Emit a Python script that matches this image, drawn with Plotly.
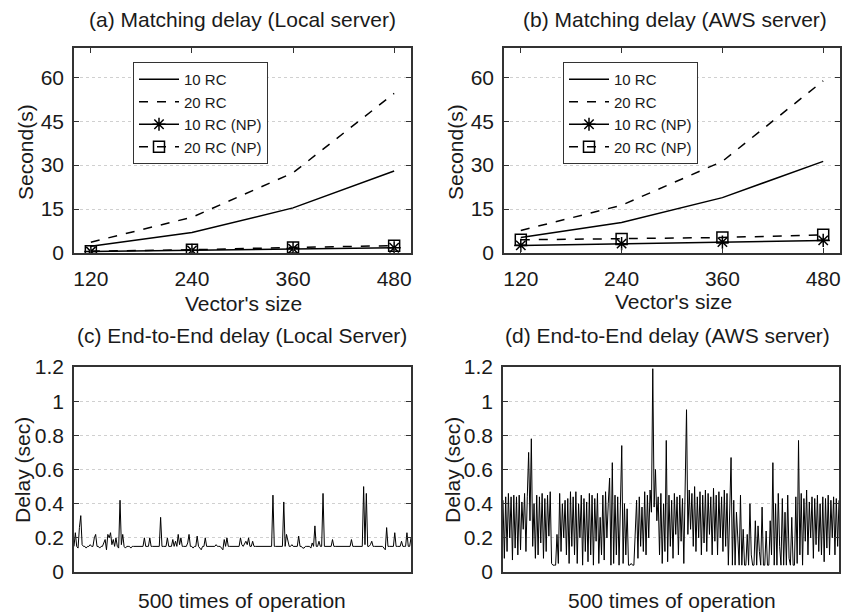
import plotly.graph_objects as go

# ---------------- data ----------------
vector_sizes = [120, 240, 360, 480]

local_10rc = [2.3, 7.0, 15.4, 28.0]
local_20rc = [3.7, 12.2, 27.4, 54.5]
local_10rc_np = [0.5, 0.9, 1.5, 1.8]
local_20rc_np = [0.6, 1.1, 1.9, 2.5]

aws_10rc = [5.3, 10.4, 18.9, 31.3]
aws_20rc = [7.7, 16.3, 31.3, 58.8]
aws_10rc_np = [2.6, 3.2, 3.7, 4.3]
aws_20rc_np = [4.5, 4.8, 5.3, 6.2]

y_ticks_match = [0, 15, 30, 45, 60]
y_ticks_delay = [0, 0.2, 0.4, 0.6, 0.8, 1, 1.2]
y_ticktext_delay = ["0", "0.2", "0.4", "0.6", "0.8", "1", "1.2"]

local_e2e = [
    0.15, 0.23, 0.15, 0.14, 0.26, 0.33, 0.16, 0.15, 0.15, 0.14,
    0.15, 0.15, 0.16, 0.15, 0.15, 0.20, 0.22, 0.15, 0.15, 0.14,
    0.15, 0.15, 0.17, 0.19, 0.13, 0.22, 0.20, 0.23, 0.16, 0.19,
    0.15, 0.20, 0.15, 0.14, 0.42, 0.16, 0.22, 0.15, 0.14, 0.15,
    0.15, 0.15, 0.14, 0.15, 0.15, 0.15, 0.15, 0.15, 0.15, 0.15,
    0.15, 0.15, 0.20, 0.15, 0.15, 0.15, 0.20, 0.15, 0.15, 0.15,
    0.15, 0.15, 0.15, 0.15, 0.32, 0.15, 0.15, 0.15, 0.15, 0.20,
    0.15, 0.15, 0.15, 0.19, 0.15, 0.18, 0.15, 0.22, 0.16, 0.20,
    0.15, 0.15, 0.15, 0.15, 0.17, 0.22, 0.15, 0.15, 0.14, 0.15,
    0.15, 0.21, 0.15, 0.14, 0.13, 0.15, 0.15, 0.20, 0.15, 0.15,
    0.15, 0.15, 0.15, 0.15, 0.15, 0.16, 0.15, 0.15, 0.15, 0.14,
    0.13, 0.19, 0.15, 0.20, 0.15, 0.15, 0.15, 0.15, 0.15, 0.15,
    0.15, 0.15, 0.15, 0.20, 0.16, 0.15, 0.17, 0.18, 0.16, 0.20,
    0.15, 0.15, 0.18, 0.15, 0.15, 0.15, 0.15, 0.15, 0.15, 0.15,
    0.15, 0.15, 0.15, 0.15, 0.15, 0.15, 0.15, 0.45, 0.15, 0.15,
    0.15, 0.15, 0.15, 0.15, 0.15, 0.41, 0.15, 0.22, 0.19, 0.15,
    0.15, 0.16, 0.15, 0.15, 0.15, 0.15, 0.21, 0.15, 0.15, 0.14,
    0.14, 0.15, 0.15, 0.15, 0.15, 0.14, 0.17, 0.15, 0.27, 0.15,
    0.15, 0.18, 0.15, 0.15, 0.46, 0.15, 0.15, 0.15, 0.15, 0.15,
    0.15, 0.19, 0.15, 0.15, 0.15, 0.15, 0.15, 0.15, 0.15, 0.15,
    0.15, 0.15, 0.15, 0.15, 0.15, 0.19, 0.15, 0.15, 0.15, 0.15,
    0.15, 0.15, 0.15, 0.15, 0.50, 0.16, 0.46, 0.15, 0.15, 0.16,
    0.18, 0.15, 0.15, 0.15, 0.15, 0.15, 0.15, 0.15, 0.15, 0.14,
    0.13, 0.26, 0.15, 0.15, 0.15, 0.15, 0.15, 0.23, 0.15, 0.15,
    0.15, 0.15, 0.18, 0.15, 0.15, 0.15, 0.23, 0.15, 0.15, 0.20,
]

aws_e2e = [
    0.42, 0.08, 0.44, 0.12, 0.46, 0.20, 0.44, 0.07, 0.45, 0.14,
    0.44, 0.10, 0.45, 0.13, 0.41, 0.25, 0.46, 0.12, 0.44, 0.70,
    0.30, 0.78, 0.15, 0.40, 0.08, 0.45, 0.10, 0.44, 0.17, 0.46,
    0.08, 0.43, 0.12, 0.45, 0.21, 0.47, 0.05, 0.04, 0.04, 0.04,
    0.22, 0.05, 0.46, 0.12, 0.40, 0.20, 0.42, 0.10, 0.43, 0.05,
    0.47, 0.15, 0.44, 0.10, 0.47, 0.05, 0.40, 0.20, 0.45, 0.04,
    0.43, 0.12, 0.41, 0.06, 0.46, 0.10, 0.45, 0.04, 0.43, 0.18,
    0.46, 0.05, 0.32, 0.10, 0.45, 0.07, 0.47, 0.20, 0.40, 0.55,
    0.04, 0.64, 0.05, 0.45, 0.10, 0.44, 0.04, 0.38, 0.74, 0.05,
    0.40, 0.10, 0.37, 0.04, 0.04, 0.05, 0.04, 0.04, 0.22, 0.42,
    0.08, 0.44, 0.15, 0.38, 0.12, 0.47, 0.10, 0.45, 0.20, 0.48,
    0.35, 1.19, 0.38, 0.60, 0.30, 0.44, 0.10, 0.46, 0.05, 0.40,
    0.12, 0.77, 0.06, 0.45, 0.15, 0.42, 0.08, 0.46, 0.22, 0.44,
    0.10, 0.45, 0.18, 0.43, 0.05, 0.47, 0.95, 0.22, 0.48, 0.25,
    0.46, 0.15, 0.50, 0.12, 0.44, 0.20, 0.47, 0.10, 0.45, 0.17,
    0.48, 0.12, 0.46, 0.22, 0.44, 0.10, 0.49, 0.18, 0.45, 0.10,
    0.47, 0.20, 0.44, 0.12, 0.48, 0.15, 0.46, 0.04, 0.45, 0.67,
    0.04, 0.42, 0.04, 0.35, 0.20, 0.04, 0.45, 0.04, 0.25, 0.04,
    0.04, 0.22, 0.04, 0.40, 0.10, 0.04, 0.04, 0.30, 0.04, 0.27,
    0.12, 0.04, 0.38, 0.04, 0.04, 0.24, 0.04, 0.04, 0.30, 0.10,
    0.64, 0.04, 0.40, 0.04, 0.46, 0.15, 0.04, 0.43, 0.04, 0.35,
    0.04, 0.45, 0.08, 0.04, 0.32, 0.04, 0.04, 0.44, 0.05, 0.77,
    0.10, 0.46, 0.04, 0.43, 0.18, 0.48, 0.10, 0.41, 0.20, 0.44,
    0.08, 0.43, 0.16, 0.45, 0.12, 0.40, 0.10, 0.44, 0.06, 0.43,
    0.14, 0.45, 0.10, 0.42, 0.20, 0.44, 0.10, 0.43, 0.15, 0.42,
]

# ---------------- figure ----------------
W, H = 856, 613
OX, OY = -8, -8          # compensate page offset
FONT = "Liberation Sans, Arial, sans-serif"
TXT = "#1a1a1a"
AX = "#333333"
TICK_SIZE = 21
LABEL_SIZE = 21

fig = go.Figure()

def add_match(xa, ya, leg, s10, s20, s10np, s20np):
    common = dict(x=vector_sizes, xaxis=xa, yaxis=ya, legend=leg)
    fig.add_trace(go.Scatter(y=s10, name="10 RC", mode="lines",
                             line=dict(color="black", width=1.5), **common))
    fig.add_trace(go.Scatter(y=s20, name="20 RC", mode="lines",
                             line=dict(color="black", width=1.5, dash="dash"), **common))
    fig.add_trace(go.Scatter(y=s10np, name="10 RC (NP)", mode="lines+markers",
                             line=dict(color="black", width=1.5),
                             marker=dict(symbol="asterisk-open", size=11,
                                         line=dict(color="black", width=1.5)), **common))
    fig.add_trace(go.Scatter(y=s20np, name="20 RC (NP)", mode="lines+markers",
                             line=dict(color="black", width=1.5, dash="dash"),
                             marker=dict(symbol="square-open", size=11, color="black",
                                         line=dict(color="black", width=1.5)), **common))

add_match("x", "y", "legend", local_10rc, local_20rc, local_10rc_np, local_20rc_np)
add_match("x2", "y2", "legend2", aws_10rc, aws_20rc, aws_10rc_np, aws_20rc_np)

fig.add_trace(go.Scatter(x=list(range(len(local_e2e))), y=local_e2e, mode="lines",
                         line=dict(color="black", width=1), xaxis="x3", yaxis="y3",
                         showlegend=False))
fig.add_trace(go.Scatter(x=list(range(len(aws_e2e))), y=aws_e2e, mode="lines",
                         line=dict(color="black", width=1), xaxis="x4", yaxis="y4",
                         showlegend=False))

def px_x(p):
    return (p + OX) / W

def px_y(p):
    return 1 - (p + OY) / H

axis_common = dict(showline=True, linecolor=AX, linewidth=1.5, mirror="ticks",
                   ticks="inside", tickcolor=AX, ticklen=5, tickwidth=1,
                   zeroline=False, automargin=False,
                   tickfont=dict(family=FONT, size=TICK_SIZE, color=TXT))

xa_match = dict(axis_common, range=[100, 500], tickvals=vector_sizes,
                showgrid=False, ticklabelstandoff=6)
ya_match = dict(axis_common, range=[0, 70], tickvals=y_ticks_match, showgrid=True,
                gridcolor="#d0d0d0", griddash="dot", gridwidth=1, ticklabelstandoff=4)
xa_delay = dict(axis_common, showticklabels=False, ticks="", showgrid=False)
ya_delay = dict(axis_common, range=[0, 1.2], tickvals=y_ticks_delay,
                ticktext=y_ticktext_delay, showgrid=True, gridcolor="#d0d0d0",
                griddash="dot", gridwidth=1, ticklabelstandoff=4)

legend_common = dict(xanchor="left", yanchor="top", bordercolor=AX, borderwidth=1,
                     bgcolor="white", font=dict(family=FONT, size=15, color=TXT),
                     itemwidth=40, tracegroupgap=0)

fig.update_layout(
    width=W, height=H,
    margin=dict(l=0, r=0, t=0, b=0, autoexpand=False),
    paper_bgcolor="white", plot_bgcolor="white",
    font=dict(family=FONT, color=TXT),
    xaxis=dict(xa_match, domain=[px_x(74), px_x(411)], anchor="y"),
    yaxis=dict(ya_match, domain=[px_y(253), px_y(48)], anchor="x"),
    xaxis2=dict(xa_match, domain=[px_x(504), px_x(840)], anchor="y2"),
    yaxis2=dict(ya_match, domain=[px_y(253), px_y(48)], anchor="x2"),
    xaxis3=dict(xa_delay, domain=[px_x(74), px_x(411)], anchor="y3",
                range=[0, len(local_e2e) - 1]),
    yaxis3=dict(ya_delay, domain=[px_y(572), px_y(367)], anchor="x3"),
    xaxis4=dict(xa_delay, domain=[px_x(503), px_x(839)], anchor="y4",
                range=[0, len(aws_e2e) - 1]),
    yaxis4=dict(ya_delay, domain=[px_y(572), px_y(367)], anchor="x4"),
    legend=dict(legend_common, x=px_x(133), y=px_y(62)),
    legend2=dict(legend_common, x=px_x(563), y=px_y(62)),
    showlegend=True,
)

def label(text, x, y, angle=0, size=LABEL_SIZE):
    fig.add_annotation(text=text, x=px_x(x), y=px_y(y), xref="paper", yref="paper",
                       showarrow=False, textangle=angle, xanchor="center",
                       yanchor="middle", font=dict(family=FONT, size=size, color=TXT))

label("(a) Matching delay (Local server)", 242, 20)
label("(b) Matching delay (AWS server)", 675, 20)
label("Vector's size", 243, 303)
label("Vector's size", 673, 302)
label("Second(s)", 25, 152, angle=-90)
label("Second(s)", 455, 152, angle=-90)
label("(c) End-to-End delay (Local Server)", 242, 335)
label("(d) End-to-End delay (AWS server)", 667, 335)
label("500 times of operation", 242, 600)
label("500 times of operation", 672, 600)
label("Delay (sec)", 22, 470, angle=-90)
label("Delay (sec)", 452, 470, angle=-90)

fig.write_html("out.html")
